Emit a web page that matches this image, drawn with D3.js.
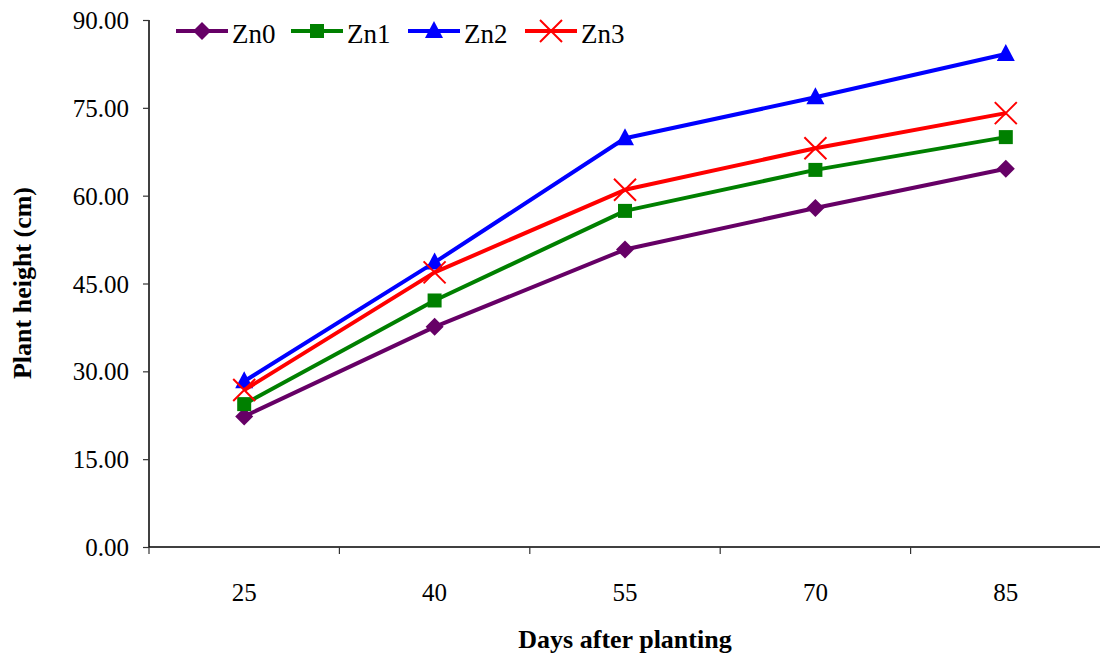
<!DOCTYPE html>
<html><head><meta charset="utf-8">
<script src="https://cdn.jsdelivr.net/npm/d3@7"></script>
<style>body{margin:0;background:#fff}svg{display:block}</style>
</head><body>
<svg id="c" width="1100" height="654"></svg>
<script>
const categories = ["25","40","55","70","85"];
const seriesNames = ["Zn0","Zn1","Zn2","Zn3"];
const zn0 = [22.3, 37.6, 50.8, 57.9, 64.6];
const zn1 = [24.4, 42.1, 57.4, 64.4, 70.0];
const zn2 = [28.3, 48.6, 69.8, 76.8, 84.2];
const zn3 = [26.8, 46.9, 61.0, 68.1, 74.1];
const yTicks = [0, 15, 30, 45, 60, 75, 90];
const colors = ["#660066", "#008000", "#0000FF", "#FF0000"];
const markers = ["diamond", "square", "triangle", "x"];
const values = [zn0, zn1, zn2, zn3];

const FF = "'Liberation Serif', 'Times New Roman', serif";
const svg = d3.select("#c");
const pL = 149, pR = 1101, pT = 20, pB = 547;
const x = d3.scaleBand().domain(categories).range([pL, pR]).padding(0);
const y = d3.scaleLinear().domain([0, 90]).range([pB, pT]);
const cx = d => x(d) + x.bandwidth() / 2;

// Y axis
const ya = svg.append("g").attr("transform", `translate(${pL},0)`)
  .call(d3.axisLeft(y).tickValues(yTicks).tickFormat(d3.format(".2f")).tickSize(6).tickPadding(14));
ya.attr("font-family", FF).attr("font-size", 25);
ya.select(".domain").attr("stroke", "#000").attr("stroke-width", 1.5).attr("d", `M0,${pT}V${pB}`);
ya.selectAll(".tick line").attr("stroke", "#333").attr("stroke-width", 1.2);
ya.selectAll(".tick text").attr("font-family", FF).attr("font-size", 25).attr("fill", "#000").attr("dy", "0.34em");

// X axis
const xa = svg.append("g").attr("transform", `translate(0,${pB})`)
  .call(d3.axisBottom(x).tickSize(0).tickPadding(36));
xa.attr("font-family", FF).attr("font-size", 25);
xa.select(".domain").attr("stroke", "#000").attr("stroke-width", 1.5).attr("d", `M${pL},0H${pR}`);
xa.selectAll(".tick text").attr("font-family", FF).attr("font-size", 25).attr("fill", "#000");
const bounds = categories.map(c => x(c)).concat([pR]);
xa.selectAll("line.bt").data(bounds).enter().append("line").attr("class", "bt")
  .attr("x1", d => d).attr("x2", d => d).attr("y1", 0).attr("y2", 7)
  .attr("stroke", "#333").attr("stroke-width", 1.2);

// axis titles
svg.append("text").attr("x", 625).attr("y", 648).attr("text-anchor", "middle").attr("font-family", FF)
  .attr("font-size", 26).attr("font-weight", "bold").text("Days after planting");
svg.append("text").attr("transform", "translate(31,283) rotate(-90)").attr("text-anchor", "middle").attr("font-family", FF)
  .attr("font-size", 26).attr("font-weight", "bold").text("Plant height (cm)");

function drawMarker(g, type, color) {
  if (type === "diamond") g.append("path").attr("d", "M0,-9L9,0L0,9L-9,0Z").attr("fill", color);
  else if (type === "square") g.append("rect").attr("x", -7).attr("y", -7).attr("width", 14).attr("height", 14).attr("fill", color);
  else if (type === "triangle") g.append("path").attr("d", "M0,-10L9,7L-9,7Z").attr("fill", color);
  else g.append("path").attr("d", "M-11,-11L11,11M-11,11L11,-11").attr("stroke", color).attr("stroke-width", 2).attr("fill", "none");
}

const line = d3.line().x((d, i) => cx(categories[i])).y(d => y(d));
values.forEach((vals, s) => {
  const g = svg.append("g");
  g.append("path").datum(vals).attr("d", line).attr("fill", "none")
    .attr("stroke", colors[s]).attr("stroke-width", 4).attr("stroke-linejoin", "round");
  vals.forEach((v, i) => {
    const mg = g.append("g").attr("transform", `translate(${cx(categories[i])},${y(v)})`);
    drawMarker(mg, markers[s], colors[s]);
  });
});

// legend
const legX = [176, 291, 408, 525];
seriesNames.forEach((n, s) => {
  const g = svg.append("g").attr("transform", `translate(${legX[s]},31)`);
  g.append("line").attr("x1", 0).attr("x2", 52).attr("y1", 0).attr("y2", 0)
    .attr("stroke", colors[s]).attr("stroke-width", 4);
  const mg = g.append("g").attr("transform", "translate(26,0)");
  drawMarker(mg, markers[s], colors[s]);
  g.append("text").attr("x", 56).attr("y", 12).attr("font-family", FF).attr("font-size", 27).text(n);
});
</script>
</body></html>
